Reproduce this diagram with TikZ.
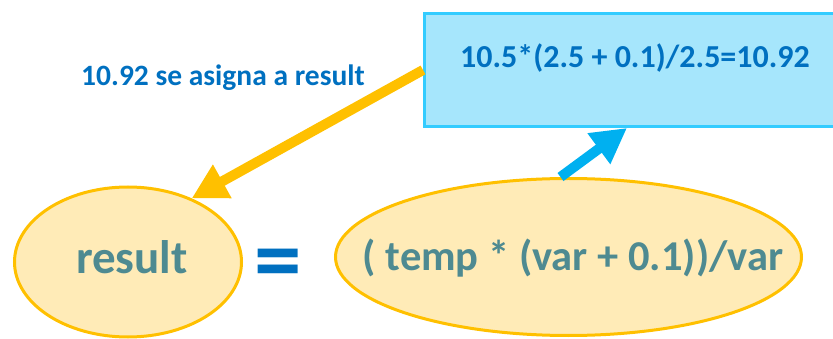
\documentclass[tikz,border=0pt]{standalone}
\usepackage{fontspec}
\setmainfont{Carlito}
\usetikzlibrary{shapes.geometric,arrows.meta}
\definecolor{goldline}{RGB}{255,192,0}
\definecolor{paleyellow}{RGB}{255,235,183}
\definecolor{tealtext}{RGB}{78,138,145}
\definecolor{officeblue}{RGB}{0,112,192}
\definecolor{skyfill}{RGB}{166,230,252}
\definecolor{skyline}{RGB}{51,204,255}
\definecolor{skyarrow}{RGB}{0,176,240}

\begin{document}
\begin{tikzpicture}[x=1pt,y=-1pt,
  oval/.style={ellipse,draw=goldline,fill=paleyellow,line width=3pt,inner sep=0pt},
  ovaltext/.style={text=tealtext,inner sep=0pt,anchor=base},
  calcbox/.style={draw=skyline,fill=skyfill,line width=3pt,inner sep=0pt,
                  minimum width=421pt,minimum height=113pt},
  bluetext/.style={text=officeblue,inner sep=0pt,anchor=base},
  flecha/.style={line width=10pt,-{Triangle[length=35pt,width=36pt]}}]
  \clip (0,0) rectangle (833,339);
  % operands
  \node[oval,minimum width=227pt,minimum height=150pt] (result) at (128,262) {};
  \node[ovaltext,font=\fontsize{47}{56}\selectfont\bfseries] (resulttext) at (132,273) {result};
  \node[oval,minimum width=466pt,minimum height=157pt] (expr) at (568.5,257) {};
  \node[ovaltext,font=\fontsize{42.5}{50}\selectfont\bfseries] (exprtext) at (573,271)
    {( temp * (var + 0.1))/var};
  \node[text=officeblue,inner sep=0pt,font=\fontsize{95}{100}\selectfont\bfseries]
    (equals) at (278.5,270) {=};
  % evaluation
  \node[calcbox] (calc) at (635,70) {};
  \node[bluetext,font=\fontsize{32}{38}\selectfont\bfseries] (calctext) at (635,68)
    {10.5*(2.5 + 0.1)/2.5=10.92};
  \node[bluetext,font=\fontsize{29.5}{35}\selectfont\bfseries] (assign) at (223,86)
    {10.92 se asigna a result};
  \draw[flecha,draw=skyarrow,fill=skyarrow] ([xshift=-8pt]expr.north)
    -- ([xshift=-8pt]calc.south);
  \draw[flecha,draw=goldline,fill=goldline] (calc.west) -- (result.45);
\end{tikzpicture}
\end{document}
